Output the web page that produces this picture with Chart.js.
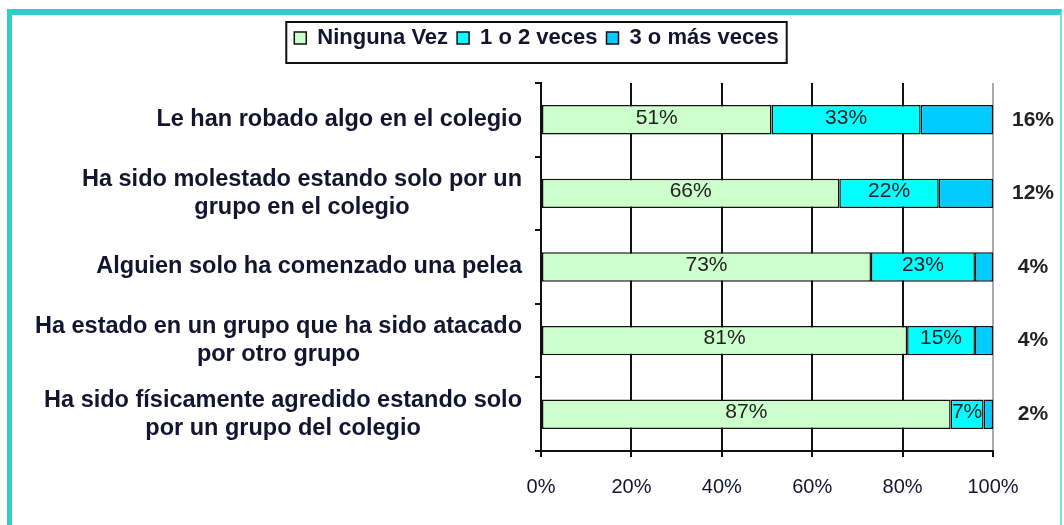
<!DOCTYPE html>
<html>
<head>
<meta charset="utf-8">
<script src="https://cdn.jsdelivr.net/npm/chart.js@4/dist/chart.umd.min.js"></script>
<style>
  html, body { margin: 0; padding: 0; background: #fff; }
  .wrap { position: relative; width: 1064px; height: 525px; overflow: hidden; }
  .frame {
    position: absolute; left: 7px; top: 9px; width: 1048px; height: 530px;
    border-left: 5px solid #33cccc; border-top: 6px solid #33cccc; border-right: 2px solid #7fdede;
    pointer-events: none;
  }
  canvas { position: absolute; left: 0; top: 0; }
</style>
</head>
<body>
<div class="wrap">
  <canvas id="chart" width="1064" height="525"></canvas>
  <div class="frame"></div>
</div>
<script>
const CATEGORIES = [
  ['Le han robado algo en el colegio'],
  ['Ha sido molestado estando solo por un', 'grupo en el colegio'],
  ['Alguien solo ha comenzado una pelea'],
  ['Ha estado en un grupo que ha sido atacado', 'por otro grupo'],
  ['Ha sido físicamente agredido estando solo', 'por un grupo del colegio']
];
const SERIES_NAMES = ['Ninguna Vez', '1 o 2 veces', '3 o más veces'];
const NINGUNA = [51, 66, 73, 81, 87];
const UNA_DOS = [33, 22, 23, 15, 7];
const TRES_MAS = [16, 12, 4, 4, 2];
const X_TICKS = [0, 20, 40, 60, 80, 100];
const COLORS = ['#ccffcc', '#00ffff', '#00ccff'];

const TEXT_COLOR = '#141430';
const FONT = 'Arial, "Liberation Sans", sans-serif';

const raw = [NINGUNA, UNA_DOS, TRES_MAS];
// 100% stacked: each bar is the share of its row total
const totals = NINGUNA.map((v, i) => v + UNA_DOS[i] + TRES_MAS[i]);
const shares = raw.map(arr => arr.map((v, i) => v / totals[i] * 100));

// make the legend block taller so the plot starts lower
const legendSpace = {
  id: 'legendSpace',
  beforeInit(chart) {
    const fit = chart.legend.fit;
    chart.legend.fit = function() {
      fit.bind(this)();
      this.height = 65;
    };
  }
};

const legendBorder = {
  id: 'legendBorder',
  afterDraw(chart) {
    const boxes = chart.legend.legendHitBoxes;
    if (!boxes || !boxes.length) return;
    const left = Math.min(...boxes.map(b => b.left)) - 8;
    const right = Math.max(...boxes.map(b => b.left + b.width)) + 8;
    const mid = boxes[0].top + boxes[0].height / 2;
    const ctx = chart.ctx;
    ctx.save();
    ctx.strokeStyle = '#111';
    ctx.lineWidth = 2;
    ctx.strokeRect(left, mid - 16, right - left, 41);
    ctx.restore();
  }
};

const yLabels = {
  id: 'yLabels',
  afterDraw(chart) {
    const ctx = chart.ctx, y = chart.scales.y;
    const rightEdge = chart.chartArea.left - 19;
    const lineH = 28;
    ctx.save();
    ctx.font = 'bold 23.5px ' + FONT;
    ctx.fillStyle = TEXT_COLOR;
    ctx.textAlign = 'center';
    ctx.textBaseline = 'middle';
    CATEGORIES.forEach((lines, i) => {
      const cy = y.getPixelForValue(i);
      const w = Math.max(...lines.map(l => ctx.measureText(l).width));
      const cx = rightEdge - w / 2;
      const start = cy - (lines.length - 1) * lineH / 2;
      lines.forEach((l, k) => ctx.fillText(l, cx, start + k * lineH));
    });
    ctx.restore();
  }
};

const barLabels = {
  id: 'barLabels',
  afterDatasetsDraw(chart) {
    const ctx = chart.ctx;
    ctx.save();
    ctx.textAlign = 'center';
    ctx.textBaseline = 'middle';
    ctx.fillStyle = '#222';
    chart.data.datasets.forEach((ds, d) => {
      chart.getDatasetMeta(d).data.forEach((bar, i) => {
        const text = raw[d][i] + '%';
        if (d === 2) {
          ctx.font = 'bold 21px ' + FONT;
          ctx.fillText(text, chart.chartArea.right + 40, bar.y);
        } else {
          ctx.font = '21px ' + FONT;
          ctx.fillText(text, (bar.x + bar.base) / 2, bar.y - 2);
        }
      });
    });
    ctx.restore();
  }
};

new Chart(document.getElementById('chart'), {
  type: 'bar',
  data: {
    labels: CATEGORIES.map(c => c.join(' ')),
    datasets: SERIES_NAMES.map((name, d) => ({
      label: name,
      data: shares[d],
      backgroundColor: COLORS[d],
      borderColor: '#111',
      borderWidth: 1.5,
      borderSkipped: false,
      barPercentage: 0.4,
      categoryPercentage: 1
    }))
  },
  options: {
    indexAxis: 'y',
    responsive: false,
    animation: false,
    events: [],
    layout: { padding: { left: 80, right: 71, top: 18, bottom: 0 } },
    scales: {
      x: {
        stacked: true,
        min: 0,
        max: 100,
        afterBuildTicks: s => { s.ticks = X_TICKS.map(v => ({ value: v })); },
        afterFit: s => { s.height = 74; },
        ticks: {
          callback: v => v + '%',
          color: TEXT_COLOR,
          font: { family: FONT, size: 20 },
          padding: 18,
          maxRotation: 0
        },
        grid: {
          color: c => (c.tick && c.tick.value === 100) ? '#aaa' : '#111',
          tickColor: '#111',
          lineWidth: 2,
          tickLength: 6
        },
        border: { color: '#111', width: 2 }
      },
      y: {
        stacked: true,
        afterFit: s => { s.width = 461; },
        ticks: { display: false },
        grid: {
          drawOnChartArea: false,
          color: '#111',
          lineWidth: 2,
          tickLength: 6
        },
        border: { color: '#111', width: 2 }
      }
    },
    plugins: {
      legend: {
        position: 'top',
        labels: {
          color: TEXT_COLOR,
          font: { family: FONT, size: 22, weight: 'bold' },
          boxWidth: 12,
          boxHeight: 12,
          padding: 9
        }
      },
      tooltip: { enabled: false }
    }
  },
  plugins: [legendSpace, legendBorder, yLabels, barLabels]
});
</script>
</body>
</html>
